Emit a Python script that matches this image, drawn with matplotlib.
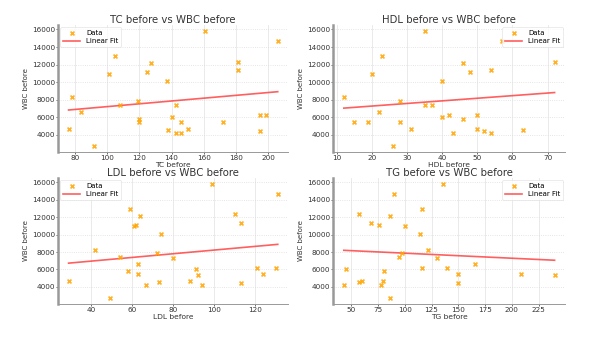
import numpy as np
import matplotlib
matplotlib.use("Agg")
import matplotlib.pyplot as plt

# WBC count per patient (shared y variable for all panels)
wbc_before = [15850, 14700, 13000, 12350, 12200, 11350, 11150, 10950, 10100, 8250,
              7850, 7450, 7350, 6600, 6200, 6200, 6050, 5800, 5500, 5500,
              5400, 4650, 4650, 4550, 4450, 4250, 4250, 2700]

tc_before = [161, 206, 105, 181, 127, 181, 125, 101, 137, 78,
             119, 108, 143, 84, 195, 199, 140, 120, 120, 146,
             172, 76, 150, 138, 195, 143, 146, 92]

hdl_before = [35, 57, 23, 72, 46, 54, 48, 20, 40, 12,
              28, 35, 37, 22, 42, 50, 40, 46, 15, 19,
              28, 31, 50, 63, 52, 43, 54, 26]

ldl_before = [99, 131, 59, 110, 64, 113, 62, 61, 74, 42,
              72, 54, 80, 63, 121, 130, 91, 58, 63, 124,
              92, 29, 88, 73, 113, 67, 94, 49]

tg_before = [136, 90, 116, 57, 86, 68, 76, 100, 114, 122,
             97, 95, 130, 166, 116, 139, 45, 81, 150, 209,
             240, 60, 80, 57, 150, 43, 78, 86]

panels = [
    ("TC before", tc_before, "upper left"),
    ("HDL before", hdl_before, "upper right"),
    ("LDL before", ldl_before, "upper left"),
    ("TG before", tg_before, "upper right"),
]

# axes rectangles: [left, bottom, width, height]
rects = [
    [0.098, 0.557, 0.388, 0.370],
    [0.562, 0.557, 0.391, 0.370],
    [0.098, 0.114, 0.388, 0.367],
    [0.562, 0.114, 0.391, 0.367],
]

fig = plt.figure(figsize=(5.93, 3.43), dpi=100)

for (name, xs, loc), rect in zip(panels, rects):
    ax = fig.add_axes(rect)
    x = np.array(xs, dtype=float)
    y = np.array(wbc_before, dtype=float)
    ax.scatter(x, y, marker="x", s=8, color="#FFA500", linewidths=1.2,
               alpha=0.85, label="Data", zorder=3)
    slope, intercept = np.polyfit(x, y, 1)
    xl = np.array([x.min(), x.max()])
    ax.plot(xl, slope * xl + intercept, color="#FF2A2A", alpha=0.75,
            linewidth=1.2, label="Linear Fit", zorder=2)

    ax.set_title(f"{name} vs WBC before", fontsize=7.3, color="#333333", pad=1.5)
    ax.set_xlabel(name, fontsize=5.4, color="#333333", labelpad=0.5)
    ax.set_ylabel("WBC before", fontsize=5.0, color="#333333", labelpad=2)
    ax.tick_params(labelsize=5.2, length=1.5, width=0.5, pad=0.8,
                   colors="#333333")
    ax.grid(axis="x", color="#e6e6e6", linewidth=0.6, linestyle="-")
    ax.grid(axis="y", color="#dddddd", linewidth=0.6, linestyle=":")
    ax.set_axisbelow(True)
    for side in ("top", "right"):
        ax.spines[side].set_visible(False)
    ax.spines["left"].set_color("#999999")
    ax.spines["left"].set_linewidth(1.8)
    ax.spines["bottom"].set_color("#999999")
    ax.spines["bottom"].set_linewidth(0.7)
    leg = ax.legend(loc=loc, fontsize=5.0, frameon=True, borderpad=0.4,
                    handlelength=2.5, labelspacing=0.3, borderaxespad=0.3)
    leg.get_frame().set_edgecolor("#dddddd")
    leg.get_frame().set_linewidth(0.5)

fig.savefig("out.png", dpi=100)
